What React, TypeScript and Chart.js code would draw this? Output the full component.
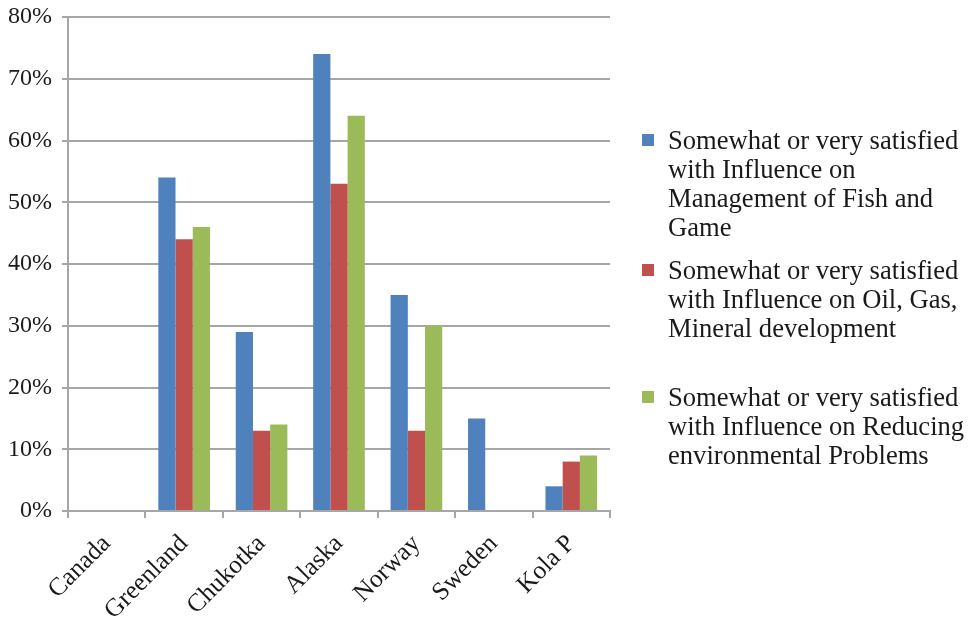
import React, { useEffect, useRef } from "react";
import { Chart, registerables } from "chart.js";

Chart.register(...registerables);

// Regions surveyed
const categories = ["Canada", "Greenland", "Chukotka", "Alaska", "Norway", "Sweden", "Kola P"];

// Share of respondents (%) per region
const fishAndGame = [0, 54, 29, 74, 35, 15, 4];
const oilGasMineral = [0, 44, 13, 53, 13, 0, 8];
const environmental = [0, 46, 14, 64, 30, 0, 9];

// Legend text, one entry per series, broken into lines
const seriesLines = [
  ["Somewhat or very satisfied", "with Influence on", "Management of Fish and", "Game"],
  ["Somewhat or very satisfied", "with Influence on Oil, Gas,", "Mineral development"],
  ["Somewhat or very satisfied", "with Influence on Reducing", "environmental Problems"],
];

const seriesColors = ["#4F81BD", "#C0504D", "#9BBB59"];
const FONT = "'Liberation Serif', 'Times New Roman', serif";
const GRID = "#a6a6a6";

export default function App() {
  const canvasRef = useRef<HTMLCanvasElement | null>(null);

  useEffect(() => {
    if (!canvasRef.current) return;
    const values = [fishAndGame, oilGasMineral, environmental];
    const chart = new Chart(canvasRef.current, {
      type: "bar",
      data: {
        labels: categories,
        datasets: values.map((v, i) => ({
          label: seriesLines[i].join(" "),
          data: v,
          backgroundColor: seriesColors[i],
          borderWidth: 0,
          categoryPercentage: 0.667,
          barPercentage: 1,
        })),
      },
      options: {
        animation: false,
        responsive: true,
        maintainAspectRatio: false,
        layout: { padding: { top: 17, right: 364, bottom: 0, left: 0 } },
        plugins: {
          legend: { display: false },
          tooltip: { enabled: false },
        },
        scales: {
          x: {
            grid: {
              display: true,
              drawOnChartArea: false,
              drawTicks: true,
              tickLength: 7,
              color: GRID,
              lineWidth: 2,
              offset: true,
            },
            border: { display: true, color: GRID, width: 2 },
            ticks: {
              maxRotation: 45,
              minRotation: 45,
              autoSkip: false,
              padding: 11,
              color: "#1a1a1a",
              font: { family: FONT, size: 25.5 },
            },
            afterFit: (scale: any) => {
              scale.height = 109;
              scale.paddingLeft = 0;
              scale.paddingRight = 0;
            },
          },
          y: {
            min: 0,
            max: 80,
            grid: {
              color: GRID,
              lineWidth: 2,
              drawTicks: true,
              tickLength: 6,
            },
            border: { display: true, color: GRID, width: 2 },
            ticks: {
              stepSize: 10,
              padding: 10,
              color: "#1a1a1a",
              font: { family: FONT, size: 24 },
              callback: (v: any) => `${v}%`,
            },
            afterFit: (scale: any) => {
              scale.width = 68;
              scale.paddingTop = 0;
              scale.paddingBottom = 0;
            },
          },
        },
      },
    });
    return () => chart.destroy();
  }, []);

  const legendTops = [126, 256, 383];

  return (
    <div style={{ position: "absolute", left: 0, top: 0, width: 974, height: 620, background: "#fff" }}>
      <canvas ref={canvasRef} />
      {seriesLines.map((lines, i) => (
        <div key={i} style={{ position: "absolute", left: 642, top: legendTops[i] }}>
          <div
            style={{
              position: "absolute",
              left: 0,
              top: 8,
              width: 12,
              height: 12,
              background: seriesColors[i],
            }}
          />
          <div
            style={{
              position: "absolute",
              left: 26,
              top: 0,
              fontFamily: FONT,
              fontSize: 26.6,
              lineHeight: "29px",
              color: "#1a1a1a",
              whiteSpace: "nowrap",
            }}
          >
            {lines.map((l, j) => (
              <div key={j}>{l}</div>
            ))}
          </div>
        </div>
      ))}
    </div>
  );
}
